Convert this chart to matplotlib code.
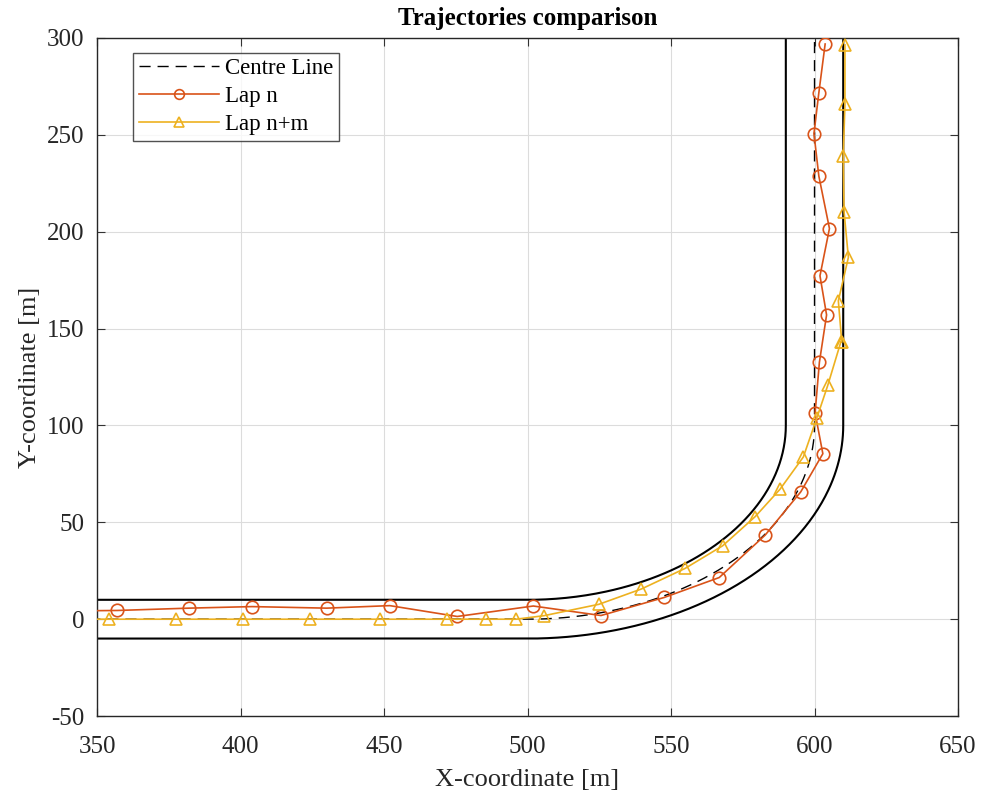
import numpy as np
import matplotlib
matplotlib.use("Agg")
import matplotlib.pyplot as plt

plt.rcParams['font.family'] = ['Liberation Serif', 'DejaVu Serif']
plt.rcParams['axes.unicode_minus'] = False

# track geometry: straight along y, quarter turn, straight up
straight_start = 300.0
turn_x = 500.0          # where the turn begins
turn_cy = 100.0         # turn centre y
centre_radius = 100.0
half_width = 10.0
top_y = 310.0

# Lap n (red circles)
lap_n_x = [335, 357, 382, 404, 430, 452, 475.5, 502, 525.6, 547.6, 566.8, 582.8, 595.2,
           602.9, 600.2, 601.7, 604.2, 601.9, 605.2, 601.5, 599.8, 601.5, 603.7]
lap_n_y = [4.2, 4.5, 5.7, 6.5, 5.7, 7.0, 1.4, 6.8, 1.9, 11.2, 21.5, 43.4, 65.7,
           85.4, 106.4, 132.6, 157.0, 177.2, 201.6, 228.7, 250.6, 271.6, 296.8]

# Lap n+m (yellow triangles)
lap_nm_x = [331, 354, 377.5, 401, 424.3, 448.5, 472, 485.5, 496, 505.7, 524.9, 539.7,
            554.9, 568, 579.3, 588, 596.1, 600.8, 604.6, 609.2, 609.5, 608.3, 611.8,
            610.3, 610.0, 610.6, 610.6]
lap_nm_y = [0, 0, 0, 0, 0, 0, 0, 0, 0, 1.8, 7.7, 15.6, 26.2, 37.9, 52.9, 67.1, 83.7,
            103.8, 120.6, 143.2, 143.0, 164.3, 186.7, 210.1, 239.0, 265.6, 296.4]


def track_line(offset):
    # offset > 0 -> inner side of the turn
    r = centre_radius - offset
    th = np.linspace(-np.pi / 2, 0, 200)
    xs = np.concatenate([[straight_start, turn_x], turn_x + r * np.cos(th), [turn_x + r]])
    ys = np.concatenate([[offset, offset], turn_cy + r * np.sin(th), [top_y]])
    return xs, ys


fig = plt.figure(figsize=(9.84, 8.01), dpi=100)
ax = fig.add_axes([0.0986, 0.106, 0.875, 0.8468])

cx, cy = track_line(0)
ix, iy = track_line(half_width)
ox, oy = track_line(-half_width)

ax.plot(cx, cy, color='black', linestyle=(0, (8, 5)), linewidth=1.0, label='Centre Line', zorder=2)
ax.plot(ix, iy, color='black', linewidth=1.5, zorder=2)
ax.plot(ox, oy, color='black', linewidth=1.5, zorder=2)
ax.plot(lap_n_x, lap_n_y, color='#D95319', marker='o', markersize=9, markerfacecolor='none',
        markeredgewidth=1.2, linewidth=1.2, label='Lap n', zorder=3)
ax.plot(lap_nm_x, lap_nm_y, color='#EDB120', marker='^', markersize=9, markerfacecolor='none',
        markeredgewidth=1.2, linewidth=1.2, label='Lap n+m', zorder=3)

ax.set_xlim(350, 650)
ax.set_ylim(-50, 300)
ax.set_xticks(np.arange(350, 651, 50))
ax.set_yticks(np.arange(-50, 301, 50))
ax.grid(True, color='#dcdcdc', linewidth=0.8)
ax.set_axisbelow(True)
ax.tick_params(direction='in', length=6, labelsize=18, top=True, right=True, color='#333333',
               labelcolor='#262626')
ax.tick_params(axis='x', pad=14)
ax.tick_params(axis='y', pad=9)
for s in ax.spines.values():
    s.set_color('#262626')
    s.set_linewidth(1.0)

ax.set_xlabel('X-coordinate [m]', fontsize=19, labelpad=8, color='#262626')
ax.set_ylabel('Y-coordinate [m]', fontsize=19, labelpad=4, color='#262626')
ax.set_title('Trajectories comparison', fontsize=18, fontweight='bold', pad=9)

leg = ax.legend(loc='upper left', bbox_to_anchor=(0.037, 0.985), fontsize=16.5, frameon=True,
                fancybox=False, edgecolor='#262626', handlelength=3.5, borderpad=0.25,
                labelspacing=0.3, handletextpad=0.25, borderaxespad=0.2)
leg.get_frame().set_linewidth(1.0)
for h in leg.get_lines():
    h.set_markersize(7)

fig.savefig('out.png', dpi=100)
